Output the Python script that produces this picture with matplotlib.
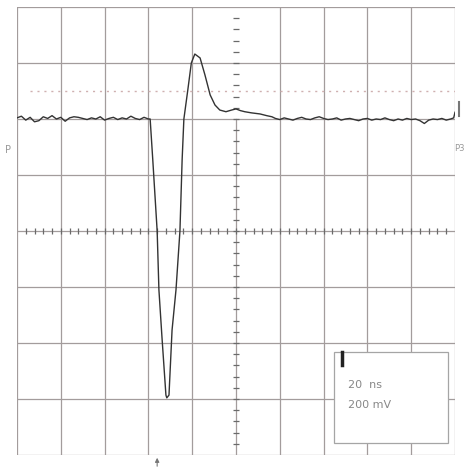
import matplotlib.pyplot as plt
import numpy as np

# screen is 10 x 8 divisions; trace values are in divisions
t_left = [0.0, 0.1, 0.2, 0.3, 0.4, 0.5, 0.6, 0.7, 0.8, 0.9,
          1.0, 1.1, 1.2, 1.3, 1.4, 1.5, 1.6, 1.7, 1.8, 1.9,
          2.0, 2.1, 2.2, 2.3, 2.4, 2.5, 2.6, 2.7, 2.8, 2.9, 3.0]
v_left = [2.02, 2.05, 1.98, 2.03, 1.95, 1.97, 2.04, 2.01, 2.06, 2.00,
          2.03, 1.96, 2.02, 2.04, 2.03, 2.01, 1.99, 2.02, 2.00, 2.04,
          1.98, 2.01, 2.03, 1.99, 2.02, 2.00, 2.05, 2.01, 1.99, 2.03, 2.00]

t_pulse = [3.04, 3.10, 3.20, 3.24, 3.31, 3.40, 3.42, 3.47, 3.54, 3.63,
           3.72, 3.77, 3.81, 3.90, 3.98, 4.06, 4.18, 4.29, 4.41, 4.52,
           4.63, 4.77, 4.90, 5.00, 5.10, 5.20, 5.35, 5.55, 5.70, 5.82]
v_pulse = [2.00, 1.27, 0.00, -1.05, -1.90, -2.93, -2.98, -2.93, -1.77, -1.05,
           0.00, 1.27, 2.00, 2.52, 3.00, 3.16, 3.09, 2.79, 2.43, 2.25,
           2.16, 2.13, 2.16, 2.18, 2.15, 2.13, 2.11, 2.09, 2.06, 2.04]

t_right = [5.9, 6.0, 6.1, 6.2, 6.3, 6.4, 6.5, 6.6, 6.7, 6.8, 6.9,
           7.0, 7.1, 7.2, 7.3, 7.4, 7.5, 7.6, 7.7, 7.8, 7.9,
           8.0, 8.1, 8.2, 8.3, 8.4, 8.5, 8.6, 8.7, 8.8, 8.9,
           9.0, 9.1, 9.2, 9.3, 9.4, 9.5, 9.6, 9.7, 9.8, 9.9, 9.97, 10.0]
v_right = [2.01, 1.99, 2.02, 2.00, 1.98, 2.01, 2.03, 2.00, 1.99, 2.02, 2.04,
           2.01, 1.99, 2.00, 2.02, 1.98, 2.00, 2.01, 1.99, 1.97, 2.00,
           2.01, 1.98, 2.00, 1.99, 2.02, 1.99, 1.97, 2.00, 1.98, 2.01,
           1.99, 2.00, 1.97, 1.92, 1.98, 2.00, 1.99, 2.01, 1.98, 2.00, 2.02, 2.12]

time_div = t_left + t_pulse + t_right
volt_div = v_left + v_pulse + v_right

x_grid = list(range(0, 11))
y_grid = list(range(-4, 5))
timebase = "20  ns"
vscale = "200 mV"

fig = plt.figure(figsize=(4.68, 4.71), dpi=100)
ax = fig.add_axes([17 / 468, 16 / 471, 438 / 468, 448 / 471])
ax.set_xlim(0, 10)
ax.set_ylim(-4, 4)
ax.axis("off")

grid_c = "#a39c9c"
for x in x_grid:
    if x == 5:
        ax.axvline(x, ymin=0, ymax=0.75, color=grid_c, lw=0.9, zorder=1)
    else:
        ax.axvline(x, color=grid_c, lw=0.9, zorder=1)
for y in y_grid:
    ax.axhline(y, color=grid_c, lw=0.9, zorder=1)

# graticule ticks on the centre lines
tick_c = "#6a6a6a"
minor = np.arange(0.2, 10, 0.2)
ax.plot(minor, np.zeros_like(minor), ls="none", marker="|", ms=4.5,
        mew=0.9, color=tick_c, zorder=2)
minor_y = np.arange(-3.8, 4.0, 0.2)
ax.plot(np.full_like(minor_y, 5.0), minor_y, ls="none", marker="_", ms=4.5,
        mew=0.9, color=tick_c, zorder=2)

# dotted reference level
ax.axhline(2.5, xmin=0.03, xmax=1.0, color="#cfb0b0", lw=1.0,
           ls=(0, (1.5, 3.5)), zorder=1)

ax.plot(time_div, volt_div, color="#333333", lw=1.0, zorder=3)

# channel / trigger markers
ax.text(-0.2, 1.45, "P", fontsize=7, color="#999999", ha="center",
        va="center", clip_on=False)
ax.text(10.1, 1.47, "P3", fontsize=6, color="#999999", ha="center",
        va="center", clip_on=False)
ax.plot([10.08, 10.08], [2.05, 2.3], color="#777777", lw=1.5, clip_on=False)
ax.annotate("", xy=(3.2, -4.0), xytext=(3.2, -4.25),
            arrowprops=dict(arrowstyle="-|>", color="#777777", lw=0.8,
                            mutation_scale=6),
            annotation_clip=False)

# scale readout box
box = plt.Rectangle((7.24, -3.79), 2.6, 1.63, facecolor="white",
                    edgecolor="#a5a5a5", lw=0.9, zorder=4)
ax.add_patch(box)
ax.plot([7.42, 7.42], [-2.16, -2.4], color="#222222", lw=2.5, zorder=5)
ax.text(7.56, -2.75, timebase, fontsize=8, color="#888888", va="center",
        zorder=5)
ax.text(7.56, -3.1, vscale, fontsize=8, color="#888888", va="center",
        zorder=5)

fig.savefig("out.png", dpi=100, facecolor="white")
